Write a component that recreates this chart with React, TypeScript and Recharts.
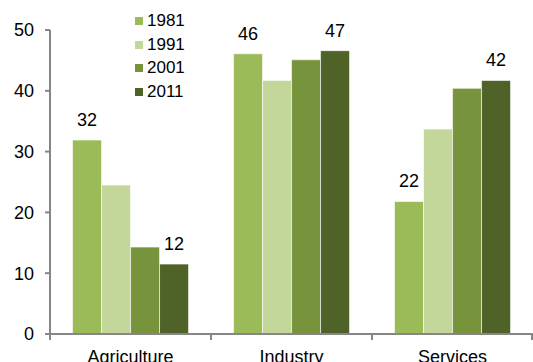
import { BarChart, Bar, XAxis, YAxis, LabelList } from "recharts";

const sectors = ["Agriculture", "Industry", "Services"];
const years = ["1981", "1991", "2001", "2011"];
const share1981 = [31.9, 46.1, 21.8];
const share1991 = [24.5, 41.7, 33.7];
const share2001 = [14.3, 45.1, 40.4];
const share2011 = [11.5, 46.6, 41.7];
const yTicks = [0, 10, 20, 30, 40, 50];

const colors = ["#9bbb59", "#c4d79b", "#77933c", "#4f6228"];
const FONT = "'Liberation Sans', Arial, sans-serif";
const AXIS = "#868686";
const TICK_SIZE = 6;
const TICK_MARGIN = 10;
const Y_TICK_SIZE = 5;
const Y_TICK_MARGIN = 11;

const data = sectors.map((s, i) => ({
  sector: s,
  y1981: share1981[i],
  y1991: share1991[i],
  y2001: share2001[i],
  y2011: share2011[i],
}));

// Excel-style legend sitting inside the plot area, top left
function LegendBox() {
  return (
    <div style={{ position: "absolute", left: 135, top: 9, fontFamily: FONT, fontSize: 17, color: "#000" }}>
      {years.map((y, i) => (
        <div key={y} style={{ display: "flex", alignItems: "center", height: 23.7 }}>
          <span style={{ display: "inline-block", width: 8, height: 8, background: colors[i], marginRight: 4 }} />
          <span>{y}</span>
        </div>
      ))}
    </div>
  );
}

// category label + tick marks between categories, like Excel does it
function SectorTick(props: any) {
  const { x, y, payload, index, visibleTicksCount, width } = props;
  const count = visibleTicksCount ?? sectors.length;
  const w = Number(width);
  const half = (Number.isFinite(w) ? w : 483) / count / 2;
  const axisY = y - TICK_SIZE - TICK_MARGIN;
  const last = index === count - 1;
  return (
    <g>
      <rect x={x - half - 1} y={axisY} width={2} height={6} fill={AXIS} />
      {last && <rect x={x + half - 2} y={axisY} width={2} height={6} fill={AXIS} />}
      <text x={x} y={y} dy="0.71em" textAnchor="middle" fontSize={18} fill="#000" fontFamily={FONT}>
        {payload.value}
      </text>
    </g>
  );
}

function ValueTick(props: any) {
  const { x, y, payload } = props;
  const axisX = x + Y_TICK_SIZE + Y_TICK_MARGIN;
  return (
    <g>
      <rect x={axisX - Y_TICK_SIZE} y={y - 1} width={Y_TICK_SIZE} height={2} fill={AXIS} />
      <text x={x} y={y} dy="0.355em" textAnchor="end" fontSize={18} fill="#000" fontFamily={FONT}>
        {payload.value}
      </text>
    </g>
  );
}

export default function App() {
  const round = (v: any) => Math.round(Number(v));
  const labelStyle = { fontSize: 18, fill: "#000", fontFamily: FONT };
  return (
    <div style={{ position: "fixed", left: 0, top: 0, width: 533, height: 362, background: "#fff" }}>
      <BarChart
        width={533}
        height={362}
        data={data}
        margin={{ top: 30, right: 0, left: 0, bottom: 0 }}
        barGap={0}
        barCategoryGap="14%"
      >
        <XAxis
          dataKey="sector"
          axisLine={{ stroke: AXIS, strokeWidth: 2 }}
          tickLine={false}
          height={28}
          tickSize={TICK_SIZE}
          tickMargin={TICK_MARGIN}
          tick={<SectorTick />}
        />
        <YAxis
          domain={[0, 50]}
          ticks={yTicks}
          width={50}
          axisLine={{ stroke: AXIS, strokeWidth: 2 }}
          tickLine={false}
          tickSize={Y_TICK_SIZE}
          tickMargin={Y_TICK_MARGIN}
          tick={<ValueTick />}
        />
        <Bar dataKey="y1981" name="1981" fill={colors[0]} stroke="#ffffff" strokeWidth={0.6} isAnimationActive={false}>
          <LabelList dataKey="y1981" position="top" offset={14} formatter={round} style={labelStyle} />
        </Bar>
        <Bar dataKey="y1991" name="1991" fill={colors[1]} stroke="#ffffff" strokeWidth={0.6} isAnimationActive={false} />
        <Bar dataKey="y2001" name="2001" fill={colors[2]} stroke="#ffffff" strokeWidth={0.6} isAnimationActive={false} />
        <Bar dataKey="y2011" name="2011" fill={colors[3]} stroke="#ffffff" strokeWidth={0.6} isAnimationActive={false}>
          <LabelList dataKey="y2011" position="top" offset={14} formatter={round} style={labelStyle} />
        </Bar>
      </BarChart>
      <LegendBox />
    </div>
  );
}
